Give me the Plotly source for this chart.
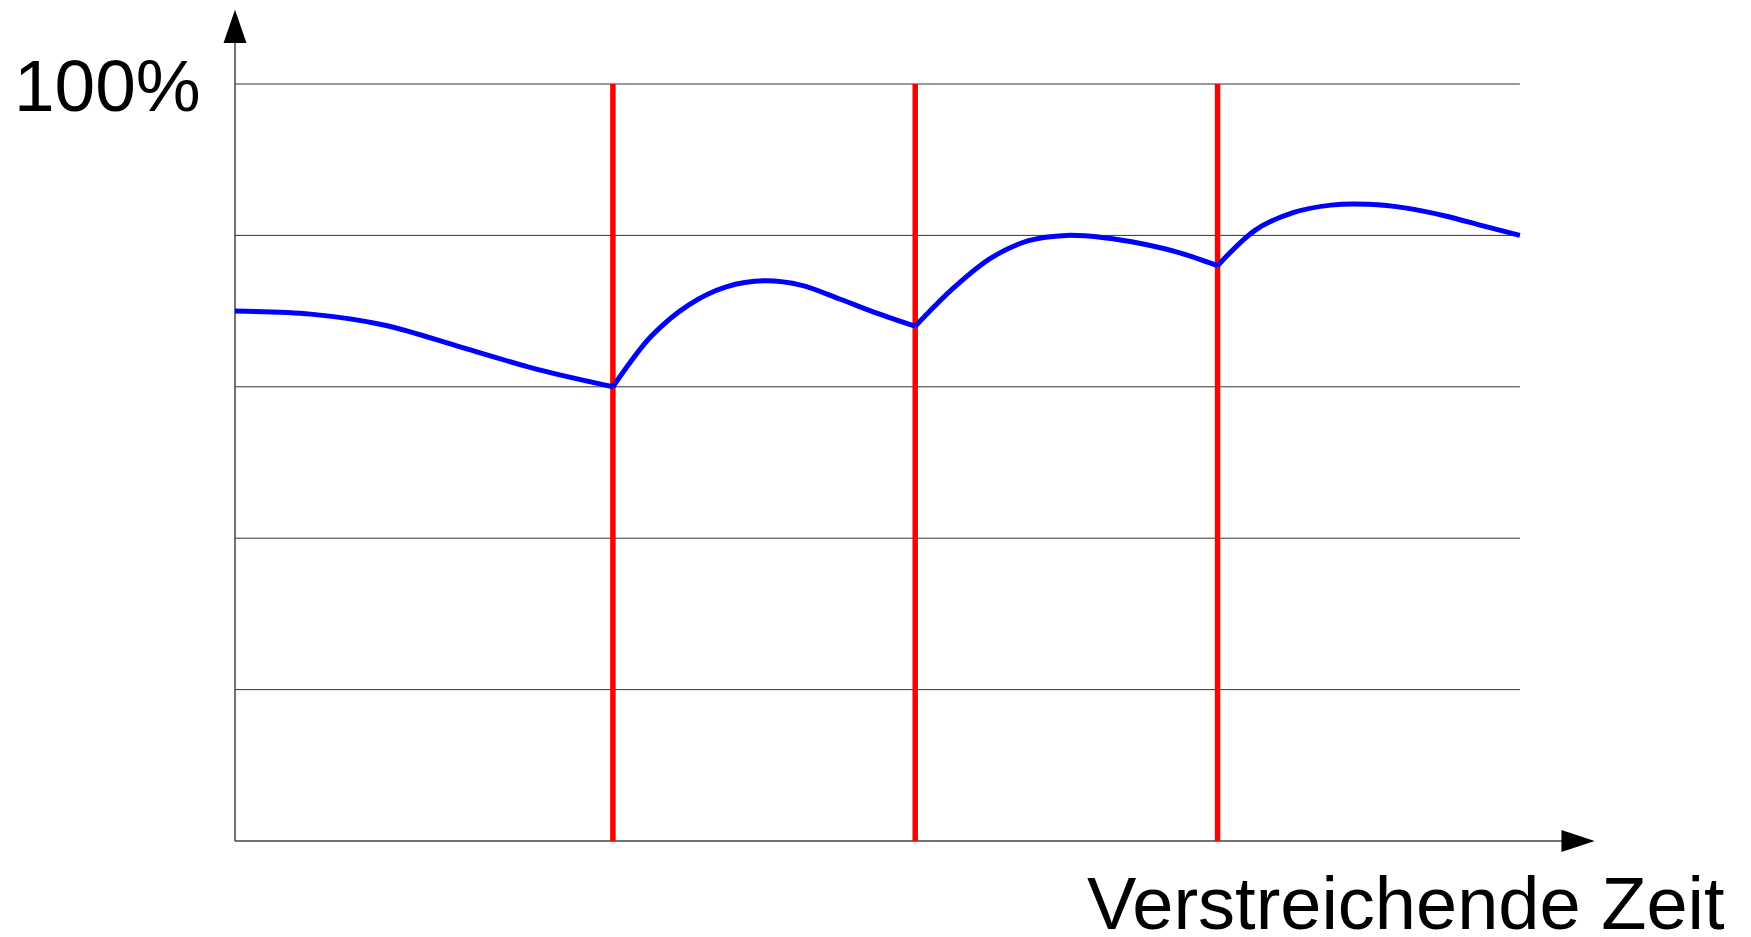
import plotly.graph_objects as go

# ---- data (x in time units, y in percent) ----
seg1_x = [0, 1, 2, 3, 4, 5]
seg1_y = [70, 69.6, 68.1, 65.2, 62.3, 60]

seg2_x = [5, 5.5, 6, 6.5, 7, 7.5, 8, 8.5, 9]
seg2_y = [60, 66.6, 70.8, 73.2, 74.0, 73.4, 71.6, 69.7, 68.0]

seg3_x = [9, 9.5, 10, 10.5, 11, 11.5, 12, 12.5, 13]
seg3_y = [68.0, 73.0, 77.0, 79.3, 80.0, 79.7, 78.9, 77.7, 76.0]

seg4_x = [13, 13.5, 14, 14.5, 15, 15.5, 16, 16.5, 17]
seg4_y = [76.0, 80.7, 83.0, 84.0, 84.1, 83.6, 82.6, 81.3, 80.0]

event_x = [5, 9, 13]               # red vertical markers
grid_y = [20, 40, 60, 80, 100]     # horizontal reference lines
x_end = 17
y_label = "100%"
x_label = "Verstreichende Zeit"

FONT = "Liberation Sans, Arial, sans-serif"

W, H = 1751, 937
X0PX, XSCALE = 235.0, 75.58   # pixel of x=0, pixels per unit
Y0PX, YSCALE = 841.0, 7.57    # pixel of y=0, pixels per percent
L, R, T, B = 205, 1603, 5, 856  # plot area in pixels

def px2x(px):
    return (px - X0PX) / XSCALE

def py2y(py):
    return (Y0PX - py) / YSCALE

def px2paper(px):
    return (px - L) / (R - L)

def py2paper(py):
    return (B - py) / (B - T)

fig = go.Figure()

shapes = []
for g in grid_y:
    shapes.append(dict(type="line", xref="x", yref="y", x0=0, x1=x_end, y0=g, y1=g,
                       line=dict(color="#333333", width=1), layer="below"))
shapes.append(dict(type="line", xref="x", yref="y", x0=0, x1=17.6, y0=0, y1=0,
                   line=dict(color="#444444", width=1.5), layer="below"))
shapes.append(dict(type="line", xref="x", yref="y", x0=0, x1=0, y0=0, y1=105.6,
                   line=dict(color="#444444", width=1.5), layer="below"))
shapes.append(dict(type="path", xref="x", yref="y",
                   path="M -0.152,105.4 L 0.152,105.4 L 0,109.8 Z",
                   fillcolor="black", line=dict(color="black", width=0)))
shapes.append(dict(type="path", xref="x", yref="y",
                   path="M 17.55,-1.45 L 17.55,1.45 L 17.99,0 Z",
                   fillcolor="black", line=dict(color="black", width=0)))
fig.update_layout(shapes=shapes)

for ex in event_x:
    fig.add_trace(go.Scatter(x=[ex, ex], y=[0, 100], mode="lines",
                             line=dict(color="#ff0000", width=5.5),
                             hoverinfo="skip", showlegend=False))

for sx, sy in [(seg1_x, seg1_y), (seg2_x, seg2_y), (seg3_x, seg3_y), (seg4_x, seg4_y)]:
    fig.add_trace(go.Scatter(x=sx, y=sy, mode="lines",
                             line=dict(color="#0000ff", width=5, shape="spline", smoothing=0.9),
                             hoverinfo="skip", showlegend=False))

fig.add_annotation(x=px2paper(203), y=py2paper(86), xref="paper", yref="paper",
                   text=y_label, showarrow=False, xanchor="right", yanchor="middle",
                   font=dict(family=FONT, size=73, color="black"))
fig.add_annotation(x=px2paper(1727), y=py2paper(903), xref="paper", yref="paper",
                   text=x_label, showarrow=False, xanchor="right", yanchor="middle",
                   font=dict(family=FONT, size=74, color="black"))

fig.update_xaxes(range=[px2x(L), px2x(R)], visible=False, fixedrange=True)
fig.update_yaxes(range=[py2y(B), py2y(T)], visible=False, fixedrange=True)
fig.update_layout(width=W, height=H,
                  margin=dict(l=L, r=W - R, t=T, b=H - B, pad=0),
                  plot_bgcolor="white", paper_bgcolor="white",
                  showlegend=False)

fig.write_html("out.html", config={"displayModeBar": False},
               post_script="document.body.style.margin='0';document.body.style.overflow='hidden';")
